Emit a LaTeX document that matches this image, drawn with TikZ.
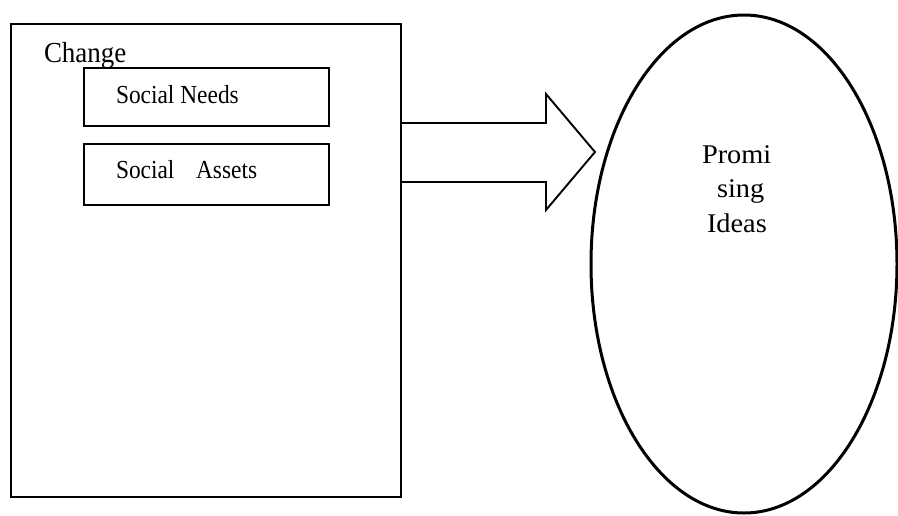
\documentclass[tikz,border=0pt]{standalone}
\usepackage{fontspec}
\setmainfont{Liberation Serif}
\usetikzlibrary{shapes.geometric}
\begin{document}
\begin{tikzpicture}[x=1pt,y=-1pt,
  box/.style={draw,line width=2.1pt,inner sep=0pt,outer sep=0pt,anchor=north west},
  lbl/.style={inner sep=0pt,outer sep=0pt,anchor=base west},
  bigarrow/.style={draw,line width=1.9pt,line join=miter}]
\useasboundingbox (0,0) rectangle (898,515);
\node[box,minimum width=390pt,minimum height=473pt] (outer) at (11,24) {};
\node[box,minimum width=245pt,minimum height=58pt] (needs) at (84,68) {};
\node[box,minimum width=245pt,minimum height=61pt] (assets) at (84,144) {};
\node[lbl,font=\fontsize{29}{30}\selectfont] (change) at (44,62) {\scalebox{0.93}[1]{Change}};
\node[lbl,font=\fontsize{26}{27}\selectfont] (needst) at (116,103) {\scalebox{0.9}[1]{Social Needs}};
\node[lbl,font=\fontsize{26}{27}\selectfont] (assetst) at (116,178) {\scalebox{0.9}[1]{Social\hspace{24pt}Assets}};
\node[draw,ellipse,line width=3pt,minimum width=306pt,minimum height=498pt,inner sep=0pt] (ideas) at (744,264) {};
\node[lbl,font=\fontsize{27}{28}\selectfont] (p1) at (702,163) {\scalebox{1.05}[1]{Promi}};
\node[lbl,font=\fontsize{27}{28}\selectfont] (p2) at (717,197) {\scalebox{1.05}[1]{sing}};
\node[lbl,font=\fontsize{27}{28}\selectfont] (p3) at (707,232) {\scalebox{1.05}[1]{Ideas}};
\coordinate (a1) at (outer.east |- 0,123);
\coordinate (a2) at (outer.east |- 0,182);
\coordinate (tip) at (595,152);
\draw[bigarrow] (a1) -- (546,123) -- (546,94) -- (tip) -- (546,210) -- (546,182) -- (a2);
\end{tikzpicture}
\end{document}
